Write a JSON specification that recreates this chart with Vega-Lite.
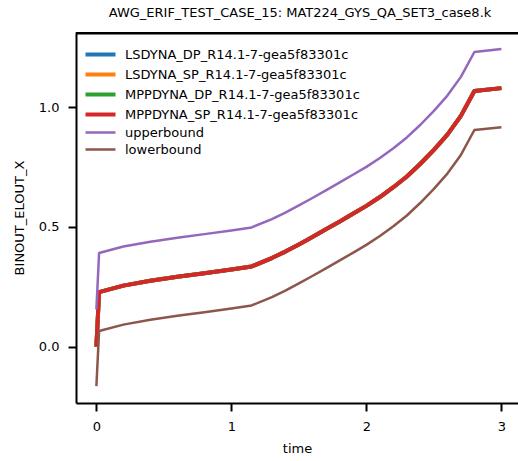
{
  "$schema": "https://vega.github.io/schema/vega-lite/v6.json",
  "autosize": {"type": "none"},
  "padding": {"left": 76, "top": 32, "right": 0, "bottom": 58},
  "width": 442,
  "height": 371,
  "background": "white",
  "title": {"text": "AWG_ERIF_TEST_CASE_15: MAT224_GYS_QA_SET3_case8.k", "font": "DejaVu Sans", "fontSize": 13, "fontWeight": "normal", "color": "black", "anchor": "middle", "dx": 3, "offset": 12},
  "config": {
    "view": {"stroke": null},
    "axis": {"grid": false, "domainColor": "black", "domainWidth": 2, "tickColor": "black", "tickWidth": 2, "tickSize": 8, "labelFont": "DejaVu Sans", "labelFontSize": 13, "labelColor": "black", "titleFont": "DejaVu Sans", "titleFontSize": 13, "titleFontWeight": "normal", "titleColor": "black", "labelPadding": 9},
    "legend": {"labelFont": "DejaVu Sans", "labelFontSize": 13, "labelColor": "black", "labelLimit": 0}
  },
  "datasets": {
    "main": [
      {"t": 0, "v": 0.0}, {"t": 0.02, "v": 0.228}, {"t": 0.2, "v": 0.255}, {"t": 0.4, "v": 0.275},
      {"t": 0.6, "v": 0.292}, {"t": 0.8, "v": 0.307}, {"t": 1.0, "v": 0.322}, {"t": 1.15, "v": 0.335},
      {"t": 1.3, "v": 0.37}, {"t": 1.4, "v": 0.397}, {"t": 1.5, "v": 0.427}, {"t": 1.6, "v": 0.458},
      {"t": 1.7, "v": 0.49}, {"t": 1.8, "v": 0.522}, {"t": 1.9, "v": 0.555}, {"t": 2.0, "v": 0.588},
      {"t": 2.1, "v": 0.625}, {"t": 2.2, "v": 0.666}, {"t": 2.3, "v": 0.711}, {"t": 2.4, "v": 0.764},
      {"t": 2.5, "v": 0.822}, {"t": 2.6, "v": 0.886}, {"t": 2.7, "v": 0.964}, {"t": 2.8, "v": 1.068},
      {"t": 3.0, "v": 1.08}
    ],
    "bounds": [
      {"s": "upperbound", "t": 0, "v": 0.155}, {"s": "upperbound", "t": 0.02, "v": 0.391}, {"s": "upperbound", "t": 0.2, "v": 0.418},
      {"s": "upperbound", "t": 0.4, "v": 0.438}, {"s": "upperbound", "t": 0.6, "v": 0.455}, {"s": "upperbound", "t": 0.8, "v": 0.47},
      {"s": "upperbound", "t": 1.0, "v": 0.485}, {"s": "upperbound", "t": 1.15, "v": 0.498}, {"s": "upperbound", "t": 1.3, "v": 0.533},
      {"s": "upperbound", "t": 1.4, "v": 0.56}, {"s": "upperbound", "t": 1.5, "v": 0.59}, {"s": "upperbound", "t": 1.6, "v": 0.621},
      {"s": "upperbound", "t": 1.7, "v": 0.653}, {"s": "upperbound", "t": 1.8, "v": 0.685}, {"s": "upperbound", "t": 1.9, "v": 0.718},
      {"s": "upperbound", "t": 2.0, "v": 0.751}, {"s": "upperbound", "t": 2.1, "v": 0.788}, {"s": "upperbound", "t": 2.2, "v": 0.829},
      {"s": "upperbound", "t": 2.3, "v": 0.874}, {"s": "upperbound", "t": 2.4, "v": 0.927}, {"s": "upperbound", "t": 2.5, "v": 0.985},
      {"s": "upperbound", "t": 2.6, "v": 1.049}, {"s": "upperbound", "t": 2.7, "v": 1.127}, {"s": "upperbound", "t": 2.8, "v": 1.231},
      {"s": "upperbound", "t": 3.0, "v": 1.243},
      {"s": "lowerbound", "t": 0, "v": -0.165}, {"s": "lowerbound", "t": 0.02, "v": 0.065}, {"s": "lowerbound", "t": 0.2, "v": 0.092},
      {"s": "lowerbound", "t": 0.4, "v": 0.112}, {"s": "lowerbound", "t": 0.6, "v": 0.129}, {"s": "lowerbound", "t": 0.8, "v": 0.144},
      {"s": "lowerbound", "t": 1.0, "v": 0.159}, {"s": "lowerbound", "t": 1.15, "v": 0.172}, {"s": "lowerbound", "t": 1.3, "v": 0.207},
      {"s": "lowerbound", "t": 1.4, "v": 0.234}, {"s": "lowerbound", "t": 1.5, "v": 0.264}, {"s": "lowerbound", "t": 1.6, "v": 0.295},
      {"s": "lowerbound", "t": 1.7, "v": 0.327}, {"s": "lowerbound", "t": 1.8, "v": 0.359}, {"s": "lowerbound", "t": 1.9, "v": 0.392},
      {"s": "lowerbound", "t": 2.0, "v": 0.425}, {"s": "lowerbound", "t": 2.1, "v": 0.462}, {"s": "lowerbound", "t": 2.2, "v": 0.503},
      {"s": "lowerbound", "t": 2.3, "v": 0.548}, {"s": "lowerbound", "t": 2.4, "v": 0.601}, {"s": "lowerbound", "t": 2.5, "v": 0.659},
      {"s": "lowerbound", "t": 2.6, "v": 0.723}, {"s": "lowerbound", "t": 2.7, "v": 0.801}, {"s": "lowerbound", "t": 2.8, "v": 0.905},
      {"s": "lowerbound", "t": 3.0, "v": 0.917}
    ],
    "spine": [{"top": 1.309}]
  },
  "layer": [
    {
      "data": {"name": "main"},
      "transform": [
        {"fold": ["LSDYNA_DP", "LSDYNA_SP", "MPPDYNA_DP", "MPPDYNA_SP"], "as": ["k", "dummy"]},
        {"lookup": "k", "from": {"data": {"values": [
          {"k": "LSDYNA_DP", "s": "LSDYNA_DP_R14.1-7-gea5f83301c"},
          {"k": "LSDYNA_SP", "s": "LSDYNA_SP_R14.1-7-gea5f83301c"},
          {"k": "MPPDYNA_DP", "s": "MPPDYNA_DP_R14.1-7-gea5f83301c"},
          {"k": "MPPDYNA_SP", "s": "MPPDYNA_SP_R14.1-7-gea5f83301c"}
        ]}, "key": "k", "fields": ["s"]}}
      ],
      "mark": {"type": "line", "strokeWidth": 4, "strokeCap": "butt", "strokeJoin": "round"},
      "encoding": {
        "x": {"field": "t", "type": "quantitative", "scale": {"domain": [-0.151, 3.123], "nice": false, "zero": false},
              "axis": {"values": [0, 1, 2, 3], "format": "d", "title": "time", "titlePadding": 9}},
        "y": {"field": "v", "type": "quantitative", "scale": {"domain": [-0.2355, 1.3145], "nice": false, "zero": false},
              "axis": {"values": [0, 0.5, 1.0], "format": ".1f", "title": "BINOUT_ELOUT_X", "titlePadding": 12}},
        "order": {"field": "t", "type": "quantitative"},
        "color": {"field": "s", "type": "nominal", "scale": {"domain": ["LSDYNA_DP_R14.1-7-gea5f83301c", "LSDYNA_SP_R14.1-7-gea5f83301c", "MPPDYNA_DP_R14.1-7-gea5f83301c", "MPPDYNA_SP_R14.1-7-gea5f83301c", "upperbound", "lowerbound"], "range": ["#1f77b4", "#ff7f0e", "#2ca02c", "#d62728", "#9467bd", "#8c564b"]},
                  "legend": {"title": null, "orient": "none", "legendX": 18, "legendY": 16, "symbolType": "M-3,0H3", "symbolSize": 100, "labelOffset": 18, "rowPadding": 3, "padding": 0,
                             "encode": {"symbols": {"update": {"strokeWidth": {"signal": "datum.value == 'upperbound' || datum.value == 'lowerbound' ? 2.5 : 4"}}}}}}
      }
    },
    {
      "data": {"name": "bounds"},
      "mark": {"type": "line", "strokeWidth": 2.5, "strokeCap": "butt", "strokeJoin": "round"},
      "encoding": {
        "x": {"field": "t", "type": "quantitative"},
        "y": {"field": "v", "type": "quantitative"},
        "order": {"field": "t", "type": "quantitative"},
        "color": {"field": "s", "type": "nominal"}
      }
    },
    {
      "data": {"name": "spine"},
      "mark": {"type": "rule", "stroke": "#000000", "strokeWidth": 2.5},
      "encoding": {"y": {"field": "top", "type": "quantitative"}}
    }
  ]
}
